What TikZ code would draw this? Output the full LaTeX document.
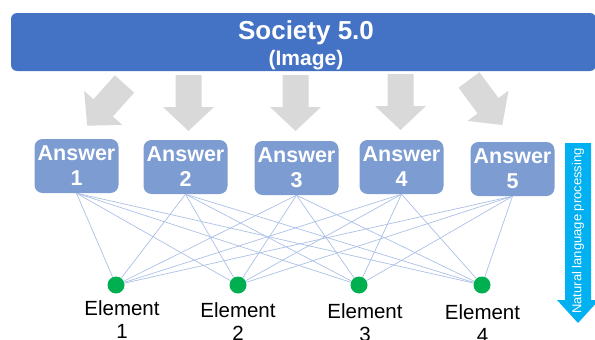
\documentclass[tikz,border=0pt]{standalone}
\usepackage{fontspec}
\setmainfont{Liberation Sans}
\definecolor{barblue}{RGB}{68,114,196}
\definecolor{ansblue}{RGB}{124,156,210}
\definecolor{linkblue}{RGB}{172,192,230}
\definecolor{dotgreen}{RGB}{0,176,80}
\definecolor{nlpblue}{RGB}{0,176,240}
\definecolor{arrgray}{RGB}{217,217,217}
\begin{document}
\begin{tikzpicture}[x=1pt,y=-1pt,
    society/.style ={rectangle, rounded corners=6pt, fill=barblue, inner sep=0pt, minimum width=585pt, minimum height=58pt},
    answer/.style ={rectangle, rounded corners=8pt, fill=ansblue, text=white, font=\fontsize{21.5}{25}\selectfont\bfseries, align=center, inner sep=0pt, minimum width=84pt, minimum height=54pt},
    element/.style ={circle, fill=dotgreen, inner sep=0pt, minimum size=17pt},
    elabel/.style ={anchor=north, inner sep=0pt, font=\fontsize{20.5}{23}\selectfont, align=center},
    link/.style ={draw=linkblue, line width=0.7pt}]
   \clip (0,0) rectangle (595,340);
   \node[society] (soc) at (303.5,42) {};
   \node[anchor=base, inner sep=0pt, text=white, font=\fontsize{26}{26}\selectfont\bfseries] (soctitle) at (306,39.3) {Society 5.0};
   \node[anchor=base, inner sep=0pt, text=white, font=\fontsize{21}{21}\selectfont\bfseries] (socsub) at (306,65.7) {(Image)};
   \foreach \x/\y/\a in {124.5/84/-131.8, 188.5/75/-90, 295.5/75/-90, 400.5/74/-90, 469/80/-53.5}
     \fill[arrgray, shift={(\x,\y)}, rotate=\a] (0,-13) -- (32,-13) -- (32,-25.5) -- (56,0) -- (32,25.5) -- (32,13) -- (0,13) -- cycle;
   \node[answer] (a1) at (76.5,166) {Answer\\1};
   \node[answer] (a2) at (185.5,167) {Answer\\2};
   \node[answer] (a3) at (296.5,168) {Answer\\3};
   \node[answer] (a4) at (401.5,167) {Answer\\4};
   \node[answer] (a5) at (512.5,169) {Answer\\5};
   \node[element] (e1) at (116,285) {};
   \node[element] (e2) at (238,285) {};
   \node[element] (e3) at (359,285) {};
   \node[element] (e4) at (482,285) {};
   \foreach \i in {1,...,5}
     \foreach \j in {1,...,4}
       \draw[link] (a\i.south) -- (e\j);
   \node[elabel] (l1) at (122,300.3) {Element\\1};
   \node[elabel] (l2) at (238,302.3) {Element\\2};
   \node[elabel] (l3) at (365,303.3) {Element\\3};
   \node[elabel] (l4) at (482.5,304.3) {Element\\4};
   \fill[nlpblue] (565,143) -- (591,143) -- (591,300) -- (599,300) -- (578,323) -- (557,300) -- (565,300) -- cycle;
   \node[rotate=90, text=white, inner sep=0pt, font=\fontsize{13}{13}\selectfont] (nlp) at (578,231) {Natural language processing};
 \end{tikzpicture}
\end{document}
